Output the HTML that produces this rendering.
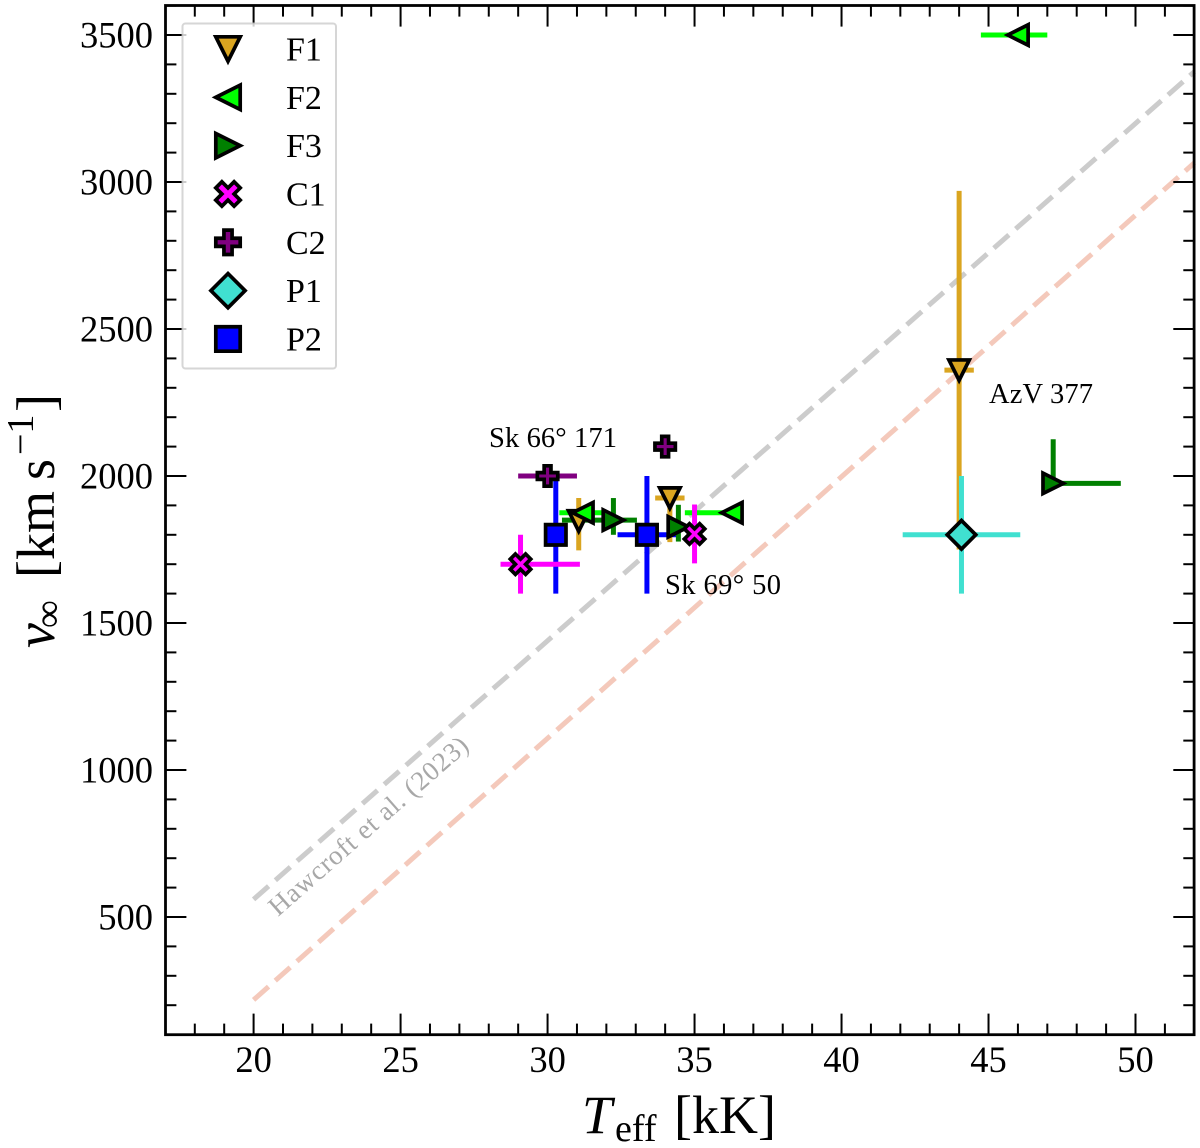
<!DOCTYPE html>
<html>
<head>
<meta charset="utf-8">
<title>Terminal velocity vs effective temperature</title>
<style>
html,body{margin:0;padding:0;background:#fff;}
svg{display:block;}
text{font-family:"Liberation Serif","Times New Roman",serif;fill:#000;}
</style>
</head>
<body>
<svg id="chart" xmlns="http://www.w3.org/2000/svg" width="1200" height="1148" viewBox="0 0 1200 1148">
  <rect x="0" y="0" width="1200" height="1148" fill="#fff"/>
  <g id="lines"></g>
  <g id="errors"></g>
  <g id="markers"></g>
  <text x="489" y="447" font-size="28.5" textLength="128" lengthAdjust="spacing">Sk 66° 171</text>
  <text x="665" y="594" font-size="28.5" textLength="116" lengthAdjust="spacing">Sk 69° 50</text>
  <text x="989" y="403" font-size="28.5" textLength="104" lengthAdjust="spacing">AzV 377</text>
  <text transform="translate(278,917) rotate(-41.3)" font-size="27" style="fill:#a8a8a8" textLength="256" lengthAdjust="spacing">Hawcroft et al. (2023)</text>
  <g id="ticks"></g>
  <rect x="165.5" y="5.5" width="1028.6" height="1029.2" fill="none" stroke="#000" stroke-width="2.8"/>
  <g id="tick-labels"></g>
  <g id="legend">
    <rect x="182.5" y="23.5" width="153.5" height="345" rx="3" ry="3" fill="#fff" fill-opacity="0.8" stroke="#ccc" stroke-opacity="0.8" stroke-width="2"/>
  </g>
  <g>
    <text x="582" y="1133" font-size="54" font-style="italic">T</text>
    <text x="615" y="1141" font-size="38">eff</text>
    <text x="674" y="1133" font-size="54">[kK]</text>
  </g>
  <g>
    <text transform="translate(54,648) rotate(-90)" font-size="56" font-style="italic">v</text>
    <text transform="translate(61,628) rotate(-90)" font-size="39">∞</text>
    <text transform="translate(54,578) rotate(-90)" font-size="54">[km</text>
    <text transform="translate(54,480) rotate(-90)" font-size="54">s</text>
    <text transform="translate(33,455) rotate(-90)" font-size="38">−1</text>
    <text transform="translate(54,412) rotate(-90)" font-size="54">]</text>
  </g>
</svg>
<script>
// Axis ranges and tick values
const xDomain = [17, 52];
const yDomain = [100, 3600];
const xMajorTicks = [20, 25, 30, 35, 40, 45, 50];
const yMajorTicks = [500, 1000, 1500, 2000, 2500, 3000, 3500];
const xMinorTicks = [18, 19, 21, 22, 23, 24, 26, 27, 28, 29, 31, 32, 33, 34, 36, 37, 38, 39, 41, 42, 43, 44, 46, 47, 48, 49, 51];
const yMinorTicks = [200, 300, 400, 600, 700, 800, 900, 1100, 1200, 1300, 1400, 1600, 1700, 1800, 1900, 2100, 2200, 2300, 2400, 2600, 2700, 2800, 2900, 3100, 3200, 3300, 3400, 3600];

// Reference relations
const lineTeff = [20, 52];
const hawcroftVinf = [560, 3375];
const fitVinf = [218, 3065];

// Series names
const seriesNames = ['F1', 'F2', 'F3', 'C1', 'C2', 'P1', 'P2'];

// Series values: Teff, vinf, and error bar extents
const f1Teff = [44, 34.16, 31.06];
const f1Vinf = [2360, 1925, 1847];
const f1XMinus = [0.5, 0.5, 0];
const f1XPlus = [0.5, 0.5, 0];
const f1YMinus = [610, 150, 100];
const f1YPlus = [610, 0, 78];

const f2Teff = [46, 36.27, 31.2];
const f2Vinf = [3500, 1875, 1875];
const f2XMinus = [1.26, 1.6, 0.8];
const f2XPlus = [1, 0, 0.64];
const f2YMinus = [0, 0, 0];
const f2YPlus = [0, 0, 0];

const f3Teff = [47.2, 32.24, 34.45];
const f3Vinf = [1975, 1850, 1827];
const f3XMinus = [0, 1.75, 0];
const f3XPlus = [2.3, 0.8, 0];
const f3YMinus = [0, 50, 50];
const f3YPlus = [150, 75, 75];

const c1Teff = [29.08, 35];
const c1Vinf = [1700, 1803];
const c1XMinus = [0.68, 0];
const c1XPlus = [2.02, 0];
const c1YMinus = [100, 100];
const c1YPlus = [100, 100];

const c2Teff = [30, 34];
const c2Vinf = [2000, 2100];
const c2XMinus = [1, 0];
const c2XPlus = [1, 0];
const c2YMinus = [0, 0];
const c2YPlus = [0, 0];

const p1Teff = [44.08];
const p1Vinf = [1800];
const p1XMinus = [2];
const p1XPlus = [2];
const p1YMinus = [200];
const p1YPlus = [200];

const p2Teff = [30.28, 33.38];
const p2Vinf = [1800, 1800];
const p2XMinus = [0, 1];
const p2XPlus = [0, 1];
const p2YMinus = [200, 200];
const p2YPlus = [200, 200];

const NS = 'http://www.w3.org/2000/svg';
const plotLeft = 165.4, plotRight = 1194.3, plotTop = 5.6, plotBottom = 1034.6;
function xScale(v) { return plotLeft + (v - xDomain[0]) / (xDomain[1] - xDomain[0]) * (plotRight - plotLeft); }
function yScale(v) { return plotBottom - (v - yDomain[0]) / (yDomain[1] - yDomain[0]) * (plotBottom - plotTop); }
function make(tag, parent) { const el = document.createElementNS(NS, tag); parent.appendChild(el); return el; }
function seg(parent, x1, y1, x2, y2, color, width) {
  const l = make('line', parent);
  l.setAttribute('x1', x1); l.setAttribute('y1', y1);
  l.setAttribute('x2', x2); l.setAttribute('y2', y2);
  l.setAttribute('stroke', color); l.setAttribute('stroke-width', width);
  return l;
}

const styles = {
  F1: { color: '#daa520', shape: 'down' },
  F2: { color: '#00ff00', shape: 'left' },
  F3: { color: '#008000', shape: 'right' },
  C1: { color: '#ff00ff', shape: 'x' },
  C2: { color: '#800080', shape: 'plus' },
  P1: { color: '#40e0d0', shape: 'diamond' },
  P2: { color: '#0000ff', shape: 'square' }
};
const series = {
  F1: [f1Teff, f1Vinf, f1XMinus, f1XPlus, f1YMinus, f1YPlus],
  F2: [f2Teff, f2Vinf, f2XMinus, f2XPlus, f2YMinus, f2YPlus],
  F3: [f3Teff, f3Vinf, f3XMinus, f3XPlus, f3YMinus, f3YPlus],
  C1: [c1Teff, c1Vinf, c1XMinus, c1XPlus, c1YMinus, c1YPlus],
  C2: [c2Teff, c2Vinf, c2XMinus, c2XPlus, c2YMinus, c2YPlus],
  P1: [p1Teff, p1Vinf, p1XMinus, p1XPlus, p1YMinus, p1YPlus],
  P2: [p2Teff, p2Vinf, p2XMinus, p2XPlus, p2YMinus, p2YPlus]
};

const shapes = {
  down: [[-1, -1], [1, -1], [0, 1]],
  left: [[-1, 0], [1, -1], [1, 1]],
  right: [[1, 0], [-1, -1], [-1, 1]],
  square: [[-1, -1], [1, -1], [1, 1], [-1, 1]],
  diamond: [[-1.4, 0], [0, -1.4], [1.4, 0], [0, 1.4]],
  x: [[-0.5, -1], [0, -0.5], [0.5, -1], [1, -0.5], [0.5, 0], [1, 0.5], [0.5, 1], [0, 0.5], [-0.5, 1], [-1, 0.5], [-0.5, 0], [-1, -0.5]],
  plus: [[-1/3, -1], [1/3, -1], [1/3, -1/3], [1, -1/3], [1, 1/3], [1/3, 1/3], [1/3, 1], [-1/3, 1], [-1/3, 1/3], [-1, 1/3], [-1, -1/3], [-1/3, -1/3]]
};
function marker(parent, cx, cy, name, r) {
  const st = styles[name];
  const p = make('polygon', parent);
  p.setAttribute('points', shapes[st.shape].map(function (v) { return (cx + v[0] * r).toFixed(2) + ',' + (cy + v[1] * r).toFixed(2); }).join(' '));
  p.setAttribute('fill', st.color);
  p.setAttribute('stroke', '#000');
  p.setAttribute('stroke-width', 3.7);
  p.setAttribute('stroke-linejoin', 'miter');
  p.setAttribute('stroke-miterlimit', 10);
  return p;
}

// Reference lines
const linesG = document.getElementById('lines');
const hawLine = seg(linesG, xScale(lineTeff[0]), yScale(hawcroftVinf[0]), xScale(lineTeff[1]), yScale(hawcroftVinf[1]), '#cccccc', 5);
hawLine.setAttribute('stroke-dasharray', '20 9');


const fitLine = seg(linesG, xScale(lineTeff[0]), yScale(fitVinf[0]), xScale(lineTeff[1]), yScale(fitVinf[1]), '#f4c9bb', 5);
fitLine.setAttribute('stroke-dasharray', '20 9');



// Error bars
const errorsG = document.getElementById('errors');
['P2', 'F1', 'F3', 'F2', 'P1', 'C1', 'C2'].forEach(function (name) {
  const s = series[name];
  s[0].forEach(function (t, i) {
    const v = s[1][i];
    const g = make('g', errorsG);
    
    
    if (s[2][i] || s[3][i]) seg(g, xScale(t - s[2][i]), yScale(v), xScale(t + s[3][i]), yScale(v), styles[name].color, 5);
    if (s[4][i] || s[5][i]) seg(g, xScale(t), yScale(v - s[4][i]), xScale(t), yScale(v + s[5][i]), styles[name].color, 5);
  });
});

// Markers
const markersG = document.getElementById('markers');
['F1', 'F2', 'F3', 'P2', 'C1', 'C2', 'P1'].forEach(function (name) {
  const s = series[name];
  s[0].forEach(function (t, i) {
    const m = marker(markersG, xScale(t), yScale(s[1][i]), name, 10.2);
    
    
  });
});

// Ticks
const ticksG = document.getElementById('ticks');
xMajorTicks.forEach(function (t) {
  const a = seg(ticksG, xScale(t), plotBottom, xScale(t), plotBottom - 21, '#000', 2);
  
  
  const b = seg(ticksG, xScale(t), plotTop, xScale(t), plotTop + 21, '#000', 2);
  
  
});
xMinorTicks.forEach(function (t) {
  const a = seg(ticksG, xScale(t), plotBottom, xScale(t), plotBottom - 11, '#000', 2);
  
  
  const b = seg(ticksG, xScale(t), plotTop, xScale(t), plotTop + 11, '#000', 2);
  
  
});
yMajorTicks.forEach(function (t) {
  const a = seg(ticksG, plotLeft, yScale(t), plotLeft + 21, yScale(t), '#000', 2);
  
  
  const b = seg(ticksG, plotRight, yScale(t), plotRight - 21, yScale(t), '#000', 2);
  
  
});
yMinorTicks.forEach(function (t) {
  const a = seg(ticksG, plotLeft, yScale(t), plotLeft + 11, yScale(t), '#000', 2);
  
  
  const b = seg(ticksG, plotRight, yScale(t), plotRight - 11, yScale(t), '#000', 2);
  
  
});

// Tick labels
const labelsG = document.getElementById('tick-labels');
xMajorTicks.forEach(function (t) {
  const el = make('text', labelsG);
  el.setAttribute('x', xScale(t));
  el.setAttribute('y', 1072);
  el.setAttribute('font-size', 36.5);
  el.setAttribute('text-anchor', 'middle');
  
  
  el.textContent = String(t);
});
yMajorTicks.forEach(function (t) {
  const el = make('text', labelsG);
  el.setAttribute('x', 153);
  el.setAttribute('y', yScale(t) + 12.5);
  el.setAttribute('font-size', 36.5);
  el.setAttribute('text-anchor', 'end');
  
  
  el.textContent = String(t);
});

// Legend
const legendG = document.getElementById('legend');
seriesNames.forEach(function (name, i) {
  const rowY = 49 + i * 48.33;
  const row = make('g', legendG);
  
  
  marker(row, 228, rowY, name, 12.2);
  const label = make('text', row);
  label.setAttribute('x', 286);
  label.setAttribute('y', rowY + 11.5);
  label.setAttribute('font-size', 34);
  label.textContent = name;
});
</script>
</body>
</html>
